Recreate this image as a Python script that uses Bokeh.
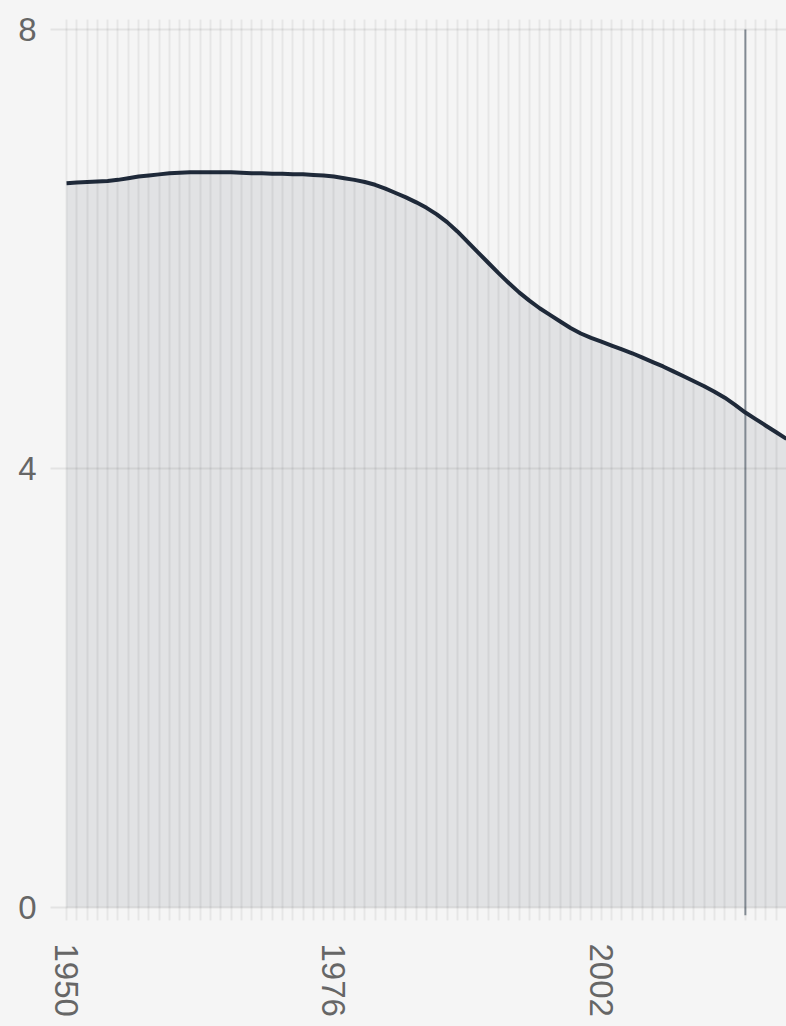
from bokeh.plotting import figure
from bokeh.models import Range1d, FixedTicker, ColumnDataSource
from bokeh.embed import file_html
from bokeh.resources import INLINE

years = list(range(1950, 2021))
values = [
    6.600, 6.605, 6.610, 6.615, 6.620, 6.630, 6.645, 6.660, 6.670, 6.680,
    6.690, 6.695, 6.700, 6.700, 6.700, 6.700, 6.700, 6.695, 6.690, 6.690,
    6.685, 6.685, 6.680, 6.680, 6.675, 6.670, 6.660, 6.645, 6.630, 6.610,
    6.585, 6.550, 6.510, 6.470, 6.425, 6.375, 6.315, 6.245, 6.160, 6.065,
    5.970, 5.875, 5.780, 5.690, 5.605, 5.530, 5.460, 5.400, 5.340, 5.280,
    5.230, 5.190, 5.155, 5.120, 5.085, 5.050, 5.010, 4.970, 4.930, 4.885,
    4.840, 4.795, 4.750, 4.700, 4.645, 4.580, 4.510, 4.450, 4.390, 4.330,
    4.270,
]
x_tick_labels = [1950, 1976, 2002]
y_tick_labels = [0, 4, 8]
marker_year = [2016]
marker_low = [-0.07]
marker_high = [8]

BG = "#f5f5f5"
FONT = "Liberation Sans"

p = figure(width=786, height=1026, output_backend="svg", toolbar_location=None,
           x_range=Range1d(1948.44, 2020), y_range=Range1d(-0.118, 8.091),
           min_border_left=50, min_border_right=0, min_border_top=19,
           min_border_bottom=106)
p.background_fill_color = BG
p.border_fill_color = BG
p.outline_line_color = None

src = ColumnDataSource(dict(x=years, y=values, base=[0] * len(years)))
p.varea(x="x", y1="base", y2="y", source=src, fill_color="#e1e2e4")

# grids
p.xgrid.ticker = FixedTicker(ticks=years)
p.xgrid.grid_line_color = "black"
p.xgrid.grid_line_alpha = 0.06
p.xgrid.grid_line_width = 2
p.xgrid.level = "guide"
p.ygrid.ticker = FixedTicker(ticks=y_tick_labels)
p.ygrid.grid_line_color = "black"
p.ygrid.grid_line_alpha = 0.07
p.ygrid.grid_line_width = 2
p.ygrid.level = "guide"

p.segment(x0=marker_year, x1=marker_year, y0=marker_low, y1=marker_high,
          line_color="#8a929c", line_width=2)
p.line(x="x", y="y", source=src, line_color="#1f2a3a", line_width=4,
       line_join="round")

# axes
for ax in (p.xaxis[0], p.yaxis[0]):
    ax.axis_line_color = None
    ax.major_tick_line_color = None
    ax.minor_tick_line_color = None
    ax.major_label_text_font = FONT
    ax.major_label_text_font_size = "33px"
    ax.major_label_text_color = "#666666"
p.xaxis.ticker = FixedTicker(ticks=x_tick_labels)
p.xaxis.major_label_orientation = "vertical"
p.xaxis.major_label_standoff = 17
p.yaxis.ticker = FixedTicker(ticks=y_tick_labels)
p.yaxis.major_label_standoff = 8

html = file_html(p, INLINE)
html = html.replace("<head>", "<head><style>body{background:#f5f5f5}</style>", 1)
open("out.html", "w").write(html)
